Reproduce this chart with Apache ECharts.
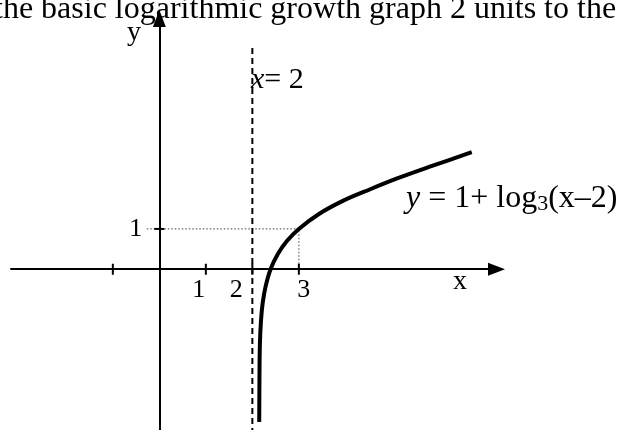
<!DOCTYPE html>
<html>
<head>
<meta charset="utf-8">
<script src="https://cdn.jsdelivr.net/npm/echarts@6/dist/echarts.min.js"></script>
<style>
  html, body { margin: 0; padding: 0; background: #fff; }
  #chart { width: 622px; height: 430px; }
</style>
</head>
<body>
<div id="chart"></div>
<script>
// values (x in axis units, y in axis units)
const curveX = [2.148, 2.153, 2.163, 2.187, 2.222, 2.284, 2.391, 2.542, 2.738, 3.0, 3.424, 3.946, 4.535, 5.127, 5.865, 6.718];
const curveY = [-3.79, -2.665, -1.829, -1.258, -0.836, -0.432, 0.0, 0.367, 0.695, 1.0, 1.365, 1.695, 1.985, 2.258, 2.563, 2.903];

const asymptoteX = [2, 2];
const asymptoteY = [5.49, -4];

const guideX = [-0.27, 3, 3];
const guideY = [1, 1, 0];

const xTickValues = [-1, 1, 2, 3];
const xTickLabels = ['', '1', '2', '3'];
const yTickValues = [1];
const yTickLabels = ['1'];

const titleText = 'the basic logarithmic growth graph 2 units to the';

const SERIF = '"Liberation Serif", "Times New Roman", serif';
const xLabelShift = [0, -7, -16, 5];

const chart = echarts.init(document.getElementById('chart'));

function pairs(xs, ys) {
  return xs.map((x, i) => [x, ys[i]]);
}

function axisCommon() {
  return {
    type: 'value',
    axisLine: {
      onZero: true,
      symbol: ['none', 'triangle'],
      symbolSize: [13, 17],
      lineStyle: { color: '#000', width: 2 }
    },
    axisTick: { show: false },
    axisLabel: { show: false },
    splitLine: { show: false }
  };
}

function textEl(x, y, text, size, align) {
  return {
    type: 'text',
    x: x,
    y: y,
    silent: true,
    style: {
      text: text,
      fontFamily: SERIF,
      fontSize: size,
      fill: '#000',
      textAlign: align || 'left',
      align: align || 'left',
      textVerticalAlign: 'middle',
      verticalAlign: 'middle'
    }
  };
}

const eqEl = textEl(406, 199, '{i|y} = 1+ log{s|3}(x\u20132)', 32);
eqEl.style.rich = {
  i: { fontStyle: 'italic', fontFamily: SERIF, fontSize: 32 },
  s: { fontFamily: SERIF, fontSize: 22, verticalAlign: 'bottom' }
};

const x2El = textEl(251, 80, '{i|x}= 2', 30);
x2El.style.rich = {
  i: { fontStyle: 'italic', fontFamily: SERIF, fontSize: 30 }
};

const tickLabel = {
  show: true,
  fontFamily: SERIF,
  fontSize: 26,
  color: '#000',
  opacity: 1
};

const option = {
  animation: false,
  backgroundColor: '#fff',
  grid: {
    left: 11,
    top: 18.5,
    width: 485.5,
    height: 412,
    containLabel: false,
    outerBoundsMode: 'none'
  },
  xAxis: Object.assign(axisCommon(), { min: -3.19, max: 7.25 }),
  yAxis: Object.assign(axisCommon(), { min: -4, max: 6.22 }),
  graphic: [
    textEl(-6, 10, titleText, 32),
    textEl(134, 33, 'y', 28, 'center'),
    x2El,
    eqEl,
    textEl(460, 282, 'x', 28, 'center')
  ],
  series: [
    {
      name: 'guide',
      type: 'line',
      silent: true,
      showSymbol: false,
      data: pairs(guideX, guideY),
      lineStyle: { color: '#666', width: 1.2, type: [1.5, 2] },
      z: 2
    },
    {
      name: 'asymptote',
      type: 'line',
      silent: true,
      showSymbol: false,
      data: pairs(asymptoteX, asymptoteY),
      lineStyle: { color: '#000', width: 2, type: [6, 4] },
      z: 3
    },
    {
      name: 'curve',
      type: 'line',
      silent: true,
      showSymbol: false,
      smooth: 0.35,
      data: pairs(curveX, curveY),
      lineStyle: { color: '#000', width: 4, cap: 'butt' },
      z: 5
    },
    {
      name: 'xticks',
      type: 'scatter',
      silent: true,
      symbol: 'rect',
      symbolSize: [2, 11],
      itemStyle: { color: '#000', opacity: 1 },
      data: xTickValues.map((v, i) => ({
        value: [v, 0],
        label: { formatter: xTickLabels[i], offset: [xLabelShift[i], 0] }
      })),
      label: Object.assign({ position: 'bottom', distance: 2 }, tickLabel),
      z: 4
    },
    {
      name: 'yticks',
      type: 'scatter',
      silent: true,
      symbol: 'rect',
      symbolSize: [10, 2],
      itemStyle: { color: '#000', opacity: 1 },
      data: yTickValues.map((v, i) => ({
        value: [0, v],
        label: { formatter: yTickLabels[i] }
      })),
      label: Object.assign({ position: 'left', distance: 12 }, tickLabel),
      z: 4
    }
  ]
};

chart.setOption(option);
</script>
</body>
</html>
